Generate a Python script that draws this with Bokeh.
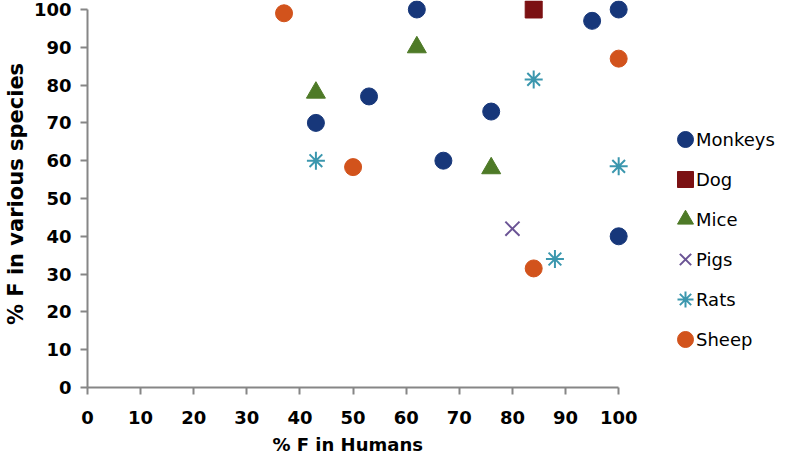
from bokeh.plotting import figure
from bokeh.models import Range1d, FixedTicker, Legend, LegendItem, Title
from bokeh.embed import file_html
from bokeh.resources import INLINE

# ---- data ----
monkeys_x = [43, 53, 62, 67, 76, 95, 100, 100]
monkeys_y = [70, 77, 100, 60, 73, 97, 100, 40]
dog_x = [84]
dog_y = [100]
mice_x = [43, 62, 76]
mice_y = [78, 90, 58]
pigs_x = [80]
pigs_y = [42]
rats_x = [43, 84, 100, 88]
rats_y = [60, 81.5, 58.5, 34]
sheep_x = [37, 50, 100, 84]
sheep_y = [99, 58.3, 87, 31.5]
ticks = [0, 10, 20, 30, 40, 50, 60, 70, 80, 90, 100]
series_names = ["Monkeys", "Dog", "Mice", "Pigs", "Rats", "Sheep"]

FONT = "DejaVu Sans"
AXIS_GRAY = "#868686"

p = figure(width=777, height=461, output_backend="svg", toolbar_location=None,
           x_range=Range1d(0, 129.9), y_range=Range1d(0, 102.38),
           min_border_left=82, min_border_right=0, min_border_top=0,
           min_border_bottom=74)
p.outline_line_color = None
p.grid.visible = False
p.background_fill_color = "white"
p.border_fill_color = "white"

for ax in (p.xaxis[0], p.yaxis[0]):
    ax.ticker = FixedTicker(ticks=ticks)
    ax.bounds = (0, 100)
    ax.axis_line_color = AXIS_GRAY
    ax.axis_line_width = 2
    ax.major_tick_line_color = AXIS_GRAY
    ax.major_tick_line_width = 2
    ax.major_tick_out = 7
    ax.major_tick_in = 0
    ax.minor_tick_line_color = None
    ax.major_label_text_font = FONT
    ax.major_label_text_font_style = "bold"
    ax.major_label_text_font_size = "18px"
    ax.major_label_text_color = "black"
    ax.axis_label_text_font = FONT
    ax.axis_label_text_font_style = "bold"
    ax.axis_label_text_color = "black"

p.xaxis[0].major_label_standoff = 16
p.yaxis[0].axis_label = "% F in various species"
p.yaxis[0].axis_label_text_font_size = "21px"
p.yaxis[0].major_label_standoff = 9
p.yaxis[0].axis_label_standoff = 3

xtitle = Title(text="% F in Humans", align="left", offset=185, standoff=10,
               vertical_align="bottom", text_font=FONT, text_font_style="bold",
               text_font_size="18px", text_color="black")
p.add_layout(xtitle, "below")

r_mon = p.scatter(monkeys_x, monkeys_y, marker="circle", size=17,
                  fill_color="#17377a", line_color="#17377a")
r_dog = p.scatter(dog_x, dog_y, marker="square", size=17,
                  fill_color="#7b1113", line_color="#7b1113")
r_mice = p.scatter(mice_x, mice_y, marker="triangle", size=19,
                   fill_color="#4e7a27", line_color="#4e7a27")
r_pigs = p.scatter(pigs_x, pigs_y, marker="x", size=20,
                   line_color="#6b5495", line_width=2)
r_rats = p.scatter(rats_x, rats_y, marker="asterisk", size=18,
                   line_color="#3b97ae", line_width=2)
r_sheep = p.scatter(sheep_x, sheep_y, marker="circle", size=17,
                    fill_color="#d2531c", line_color="#d2531c")
renderers = [r_mon, r_dog, r_mice, r_pigs, r_rats, r_sheep]

# legend glyphs (no text)
leg_glyphs = Legend(items=[LegendItem(label="", renderers=[r]) for r in renderers],
                    location=(578, 28))
# legend labels (no glyph area)
leg_labels = Legend(items=[LegendItem(label=n, renderers=[r])
                           for n, r in zip(series_names, renderers)],
                    location=(609, 28))
for lg in (leg_glyphs, leg_labels):
    lg.glyph_height = 40
    lg.label_height = 40
    lg.spacing = 0
    lg.padding = 0
    lg.margin = 0
    lg.label_standoff = 0
    lg.label_text_font = FONT
    lg.label_text_font_size = "18px"
    lg.label_text_color = "black"
    lg.border_line_color = None
    lg.background_fill_alpha = 0
leg_glyphs.glyph_width = 40
leg_glyphs.label_width = 0
leg_labels.glyph_width = 0
p.add_layout(leg_glyphs, "center")
p.add_layout(leg_labels, "center")

open("out.html", "w").write(file_html(p, INLINE))
